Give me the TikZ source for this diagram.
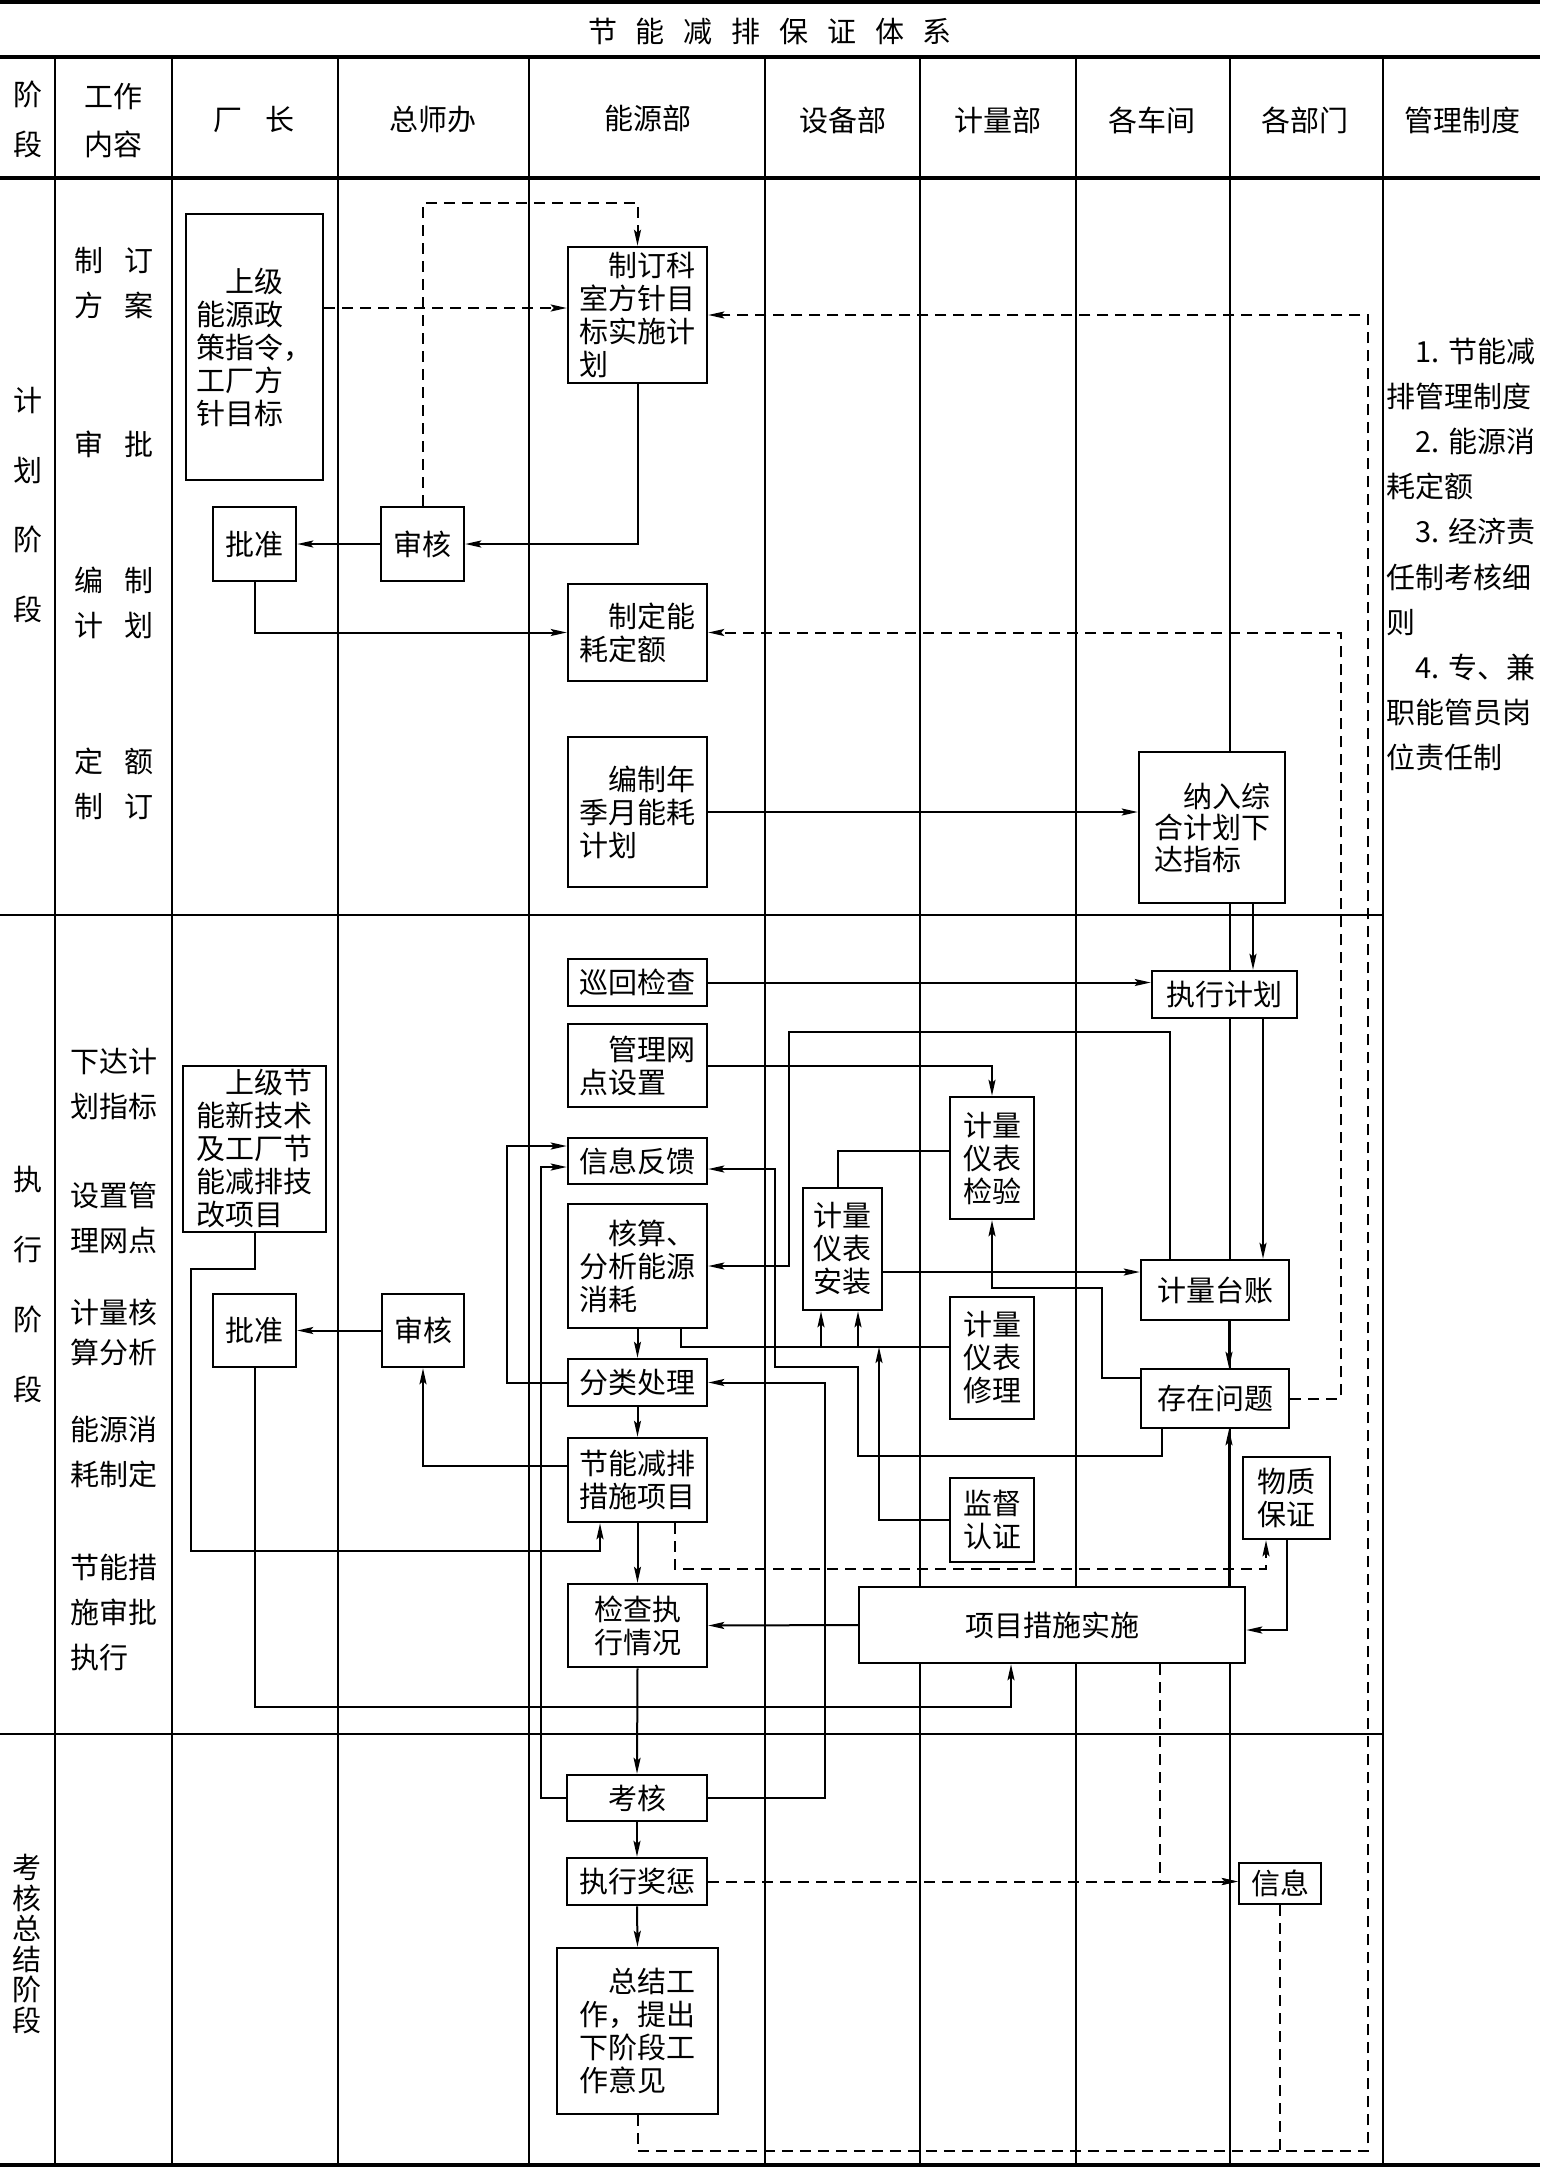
\documentclass[tikz,border=0pt]{standalone}
\usepackage{fontspec}
\newfontfamily\cjk{Noto Sans CJK SC}
\usetikzlibrary{arrows.meta}
\begin{document}
\begin{tikzpicture}[x=1pt,y=-1pt,
  every node/.style={font=\cjk\fontsize{29pt}{33pt}\selectfont, inner sep=0pt},
  bx/.style={draw, line width=2.5pt, fill=white, align=left},
  tl/.style={line width=2pt},
  thk/.style={line width=3.5pt},
  cn/.style={line width=2pt},
  dl/.style={line width=2pt, dash pattern=on 11pt off 7pt},
  arr/.style={-{Stealth[length=16pt,width=7pt,inset=3pt]}},
  lab/.style={align=left, font=\cjk\fontsize{29pt}{45pt}\selectfont},
  labc/.style={align=center, font=\cjk\fontsize{29pt}{45pt}\selectfont},
]
\useasboundingbox (0,0) rectangle (1540,2169);
% ---------- table ----------
\draw[thk] (0,2) -- (1540,2);
\draw[thk] (0,57) -- (1540,57);
\draw[thk] (0,178) -- (1540,178);
\draw[line width=4pt] (0,2165) -- (1540,2165);
\draw[tl] (0,915) -- (1383,915);
\draw[tl] (0,1734) -- (1383,1734);
\foreach \x in {55,172,338,529,765,920,1076,1230,1383} \draw[tl] (\x,57) -- (\x,2165);

% ---------- headers ----------
\node (title) at (770,32) {节\hspace{0.65em}能\hspace{0.65em}减\hspace{0.65em}排\hspace{0.65em}保\hspace{0.65em}证\hspace{0.65em}体\hspace{0.65em}系};
\node[align=center,font=\cjk\fontsize{29pt}{50pt}\selectfont] (h0) at (27.5,119) {阶\\段};
\node[align=center,font=\cjk\fontsize{29pt}{48pt}\selectfont] (h1) at (113,121) {工作\\内容};
\node (h2) at (254,120) {厂\hspace{0.8em}长};
\node (h3) at (433,120) {总师办};
\node (h4) at (648,118) {能源部};
\node (h5) at (843,120) {设备部};
\node (h6) at (998,120) {计量部};
\node (h7) at (1152,120) {各车间};
\node (h8) at (1305,120) {各部门};
\node (h9) at (1462,120) {管理制度};

% ---------- phase labels ----------
\node[align=center,font=\cjk\fontsize{29pt}{69.5pt}\selectfont] (p1) at (27.5,505) {计\\划\\阶\\段};
\node[align=center,font=\cjk\fontsize{29pt}{70pt}\selectfont] (p2) at (27.5,1285) {执\\行\\阶\\段};
\node[align=center,font=\cjk\fontsize{29pt}{30.5pt}\selectfont] (p3) at (27,1944) {考\\核\\总\\结\\阶\\段};

% ---------- work content ----------
\node[labc] (w1) at (114,283.5) {制\hspace{0.7em}订\\方\hspace{0.7em}案};
\node (w2) at (114,444) {审\hspace{0.7em}批};
\node[labc] (w3) at (114,603) {编\hspace{0.7em}制\\计\hspace{0.7em}划};
\node[labc] (w4) at (114,784) {定\hspace{0.7em}额\\制\hspace{0.7em}订};
\node[lab] (w5) at (114,1084) {下达计\\划指标};
\node[lab] (w6) at (114,1218) {设置管\\理网点};
\node[align=left,font=\cjk\fontsize{29pt}{40pt}\selectfont] (w7) at (114,1332) {计量核\\算分析};
\node[lab] (w8) at (114,1452) {能源消\\耗制定};
\node[lab] (w9) at (114,1612) {节能措\\施审批\\执行};

% ---------- management rules ----------
\node[align=left,font=\cjk\fontsize{29pt}{45.2pt}\selectfont] (mg) at (1461,554.5)
 {\hspace*{1em}1. 节能减\\排管理制度\\\hspace*{1em}2. 能源消\\耗定额\\\hspace*{1em}3. 经济责\\任制考核细\\则\\\hspace*{1em}4. 专、兼\\职能管员岗\\位责任制};

% ---------- plan phase boxes ----------
\node[bx,minimum width=137pt,minimum height=266pt] (polA) at (254.5,347) {\hspace*{1em}上级\\能源政\\策指令，\\工厂方\\针目标};
\node[bx,minimum width=139pt,minimum height=136pt] (B) at (637.5,315) {\hspace*{1em}制订科\\室方针目\\标实施计\\划};
\node[bx,minimum width=83pt,minimum height=74pt] (pz1) at (254.5,544) {批准};
\node[bx,minimum width=83pt,minimum height=74pt] (sh1) at (422.5,544) {审核};
\node[bx,minimum width=139pt,minimum height=97pt] (de) at (637.5,632.5) {\hspace*{1em}制定能\\耗定额};
\node[bx,minimum width=139pt,minimum height=150pt] (bz) at (637.5,812) {\hspace*{1em}编制年\\季月能耗\\计划};
\node[bx,minimum width=146pt,minimum height=151pt,font=\cjk\fontsize{29pt}{31.5pt}\selectfont] (nr) at (1212,827.5) {\hspace*{1em}纳入综\\合计划下\\达指标};

% ---------- execution phase boxes ----------
\node[bx,minimum width=139pt,minimum height=47pt] (xh) at (637.5,982.5) {巡回检查};
\node[bx,minimum width=139pt,minimum height=83pt] (gl) at (637.5,1065.5) {\hspace*{1em}管理网\\点设置};
\node[bx,minimum width=139pt,minimum height=46pt] (xf) at (637.5,1161) {信息反馈};
\node[bx,minimum width=139pt,minimum height=124pt] (hs) at (637.5,1266) {\hspace*{1em}核算、\\分析能源\\消耗};
\node[bx,minimum width=79pt,minimum height=122pt] (az) at (842.5,1249) {计量\\仪表\\安装};
\node[bx,minimum width=84pt,minimum height=122pt] (jy) at (992,1158) {计量\\仪表\\检验};
\node[bx,minimum width=145pt,minimum height=47pt] (zx) at (1224.5,994.5) {执行计划};
\node[bx,minimum width=148pt,minimum height=60pt] (tz) at (1215,1290) {计量台账};
\node[bx,minimum width=84pt,minimum height=122pt] (xl) at (992,1358) {计量\\仪表\\修理};
\node[bx,minimum width=148pt,minimum height=59pt] (wt) at (1215,1398.5) {存在问题};
\node[bx,minimum width=84pt,minimum height=84pt] (jd) at (992,1520) {监督\\认证};
\node[bx,minimum width=87pt,minimum height=82pt] (wz) at (1286.5,1498) {物质\\保证};
\node[bx,minimum width=386pt,minimum height=76pt] (xm) at (1052,1625) {项目措施实施};
\node[bx,minimum width=139pt,minimum height=47pt] (fl) at (637.5,1382.5) {分类处理};
\node[bx,minimum width=139pt,minimum height=84pt] (jn) at (637.5,1480) {节能减排\\措施项目};
\node[bx,minimum width=139pt,minimum height=83pt,align=center] (jc) at (637.5,1625.5) {检查执\\行情况};
\node[bx,minimum width=143pt,minimum height=166pt] (polB) at (254.5,1149) {\hspace*{1em}上级节\\能新技术\\及工厂节\\能减排技\\改项目};
\node[bx,minimum width=83pt,minimum height=73pt] (pz2) at (254.5,1330.5) {批准};
\node[bx,minimum width=82pt,minimum height=73pt] (sh2) at (423,1330.5) {审核};

% ---------- assessment phase boxes ----------
\node[bx,minimum width=140pt,minimum height=46pt] (kh) at (637,1798) {考核};
\node[bx,minimum width=140pt,minimum height=47pt] (jc2) at (637,1881.5) {执行奖惩};
\node[bx,minimum width=161pt,minimum height=166pt] (zj) at (637.5,2031) {\hspace*{1em}总结工\\作，提出\\下阶段工\\作意见};
\node[bx,minimum width=82pt,minimum height=41pt] (xx) at (1280,1883.5) {信息};

% ---------- plan phase connectors ----------
\draw[dl,arr] (polA.east |- 0,308) -- (B.west |- 0,308);
\draw[dl,arr] (sh1.north) |- (B.north |- 0,203) -- (B.north);
\draw[cn,arr] (B.south) |- (sh1.east);
\draw[cn,arr] (sh1.west) -- (pz1.east);
\draw[cn,arr] (pz1.south) |- (de.west);
\draw[dl,arr] (wt.east) -| (1341,632.5) -- (de.east);
\draw[dl,arr] (zj.south) |- (1368,2151) |- (B.east);
\draw[cn,arr] (bz.east) -- (nr.west |- bz.east);

% ---------- execution phase connectors ----------
\draw[cn,arr] (nr.south -| 1253,0) -- (zx.north -| 1253,0);
\draw[cn,arr] (xh.east) -- (zx.west |- xh.east);
\draw[cn,arr] (tz.north -| 1170,0) |- (789,1032) |- (hs.east);
\draw[cn,arr] (gl.east) -| (jy.north);
\draw[cn,arr] (fl.west) -| (507,1146) -- (xf.west |- 0,1146);
\draw[cn,arr] (kh.west) -| (541,1167) -- (xf.west |- 0,1167);
\draw[cn,arr] (wt.south -| 1162,0) |- (858,1456) |- (775,1367) |- (xf.east |- 0,1169);
\draw[cn] (hs.south -| 681,0) |- (xl.west |- 0,1347);
\coordinate (ja) at (821,1347);
\coordinate (jb) at (858,1347);
\coordinate (jm) at (879,1347);
\draw[cn,arr] (ja) -- (az.south -| ja);
\draw[cn,arr] (jb) -- (az.south -| jb);
\draw[cn,arr] (jd.west) -| (jm);
\draw[cn] (az.north -| 838,0) |- (jy.west |- 0,1151);
\draw[cn,arr] (az.east |- 0,1272) -- (tz.west |- 0,1272);
\draw[cn,arr] (wt.west |- 0,1378) -| (1102,1288) -| (jy.south);
\draw[cn,arr] (zx.south -| 1263,0) -- (tz.north -| 1263,0);
\draw[cn,arr] (tz.south -| 1229,0) -- (wt.north -| 1229,0);
\draw[cn,arr] (xm.north -| 1229,0) -- (wt.south -| 1229,0);
\draw[cn,arr] (xm.west) -- (jc.east);
\draw[cn,arr] (wz.south) |- (xm.east |- 0,1630);
\draw[dl,arr] (jn.south -| 675,0) |- (1266,1569) -- (wz.south -| 1266,0);
\draw[cn,arr] (kh.east) -| (825,1382.5) -- (fl.east);
\draw[cn,arr] (hs.south) -- (fl.north);
\draw[cn,arr] (fl.south) -- (jn.north);
\draw[cn,arr] (jn.south) -- (jc.north);
\draw[cn,arr] (jc.south) -- (kh.north);
\draw[cn,arr] (jn.west |- 0,1466) -| (sh2.south);
\draw[cn,arr] (polB.south) |- (191,1269) |- (600,1551) -- (jn.south -| 600,0);
\draw[cn,arr] (pz2.south) |- (1011,1707) -- (xm.south -| 1011,0);
\draw[cn,arr] (sh2.west) -- (pz2.east);

% ---------- assessment phase connectors ----------
\draw[cn,arr] (kh.south) -- (jc2.north);
\draw[cn,arr] (jc2.south) -- (zj.north);
\draw[dl,arr] (xm.south -| 1160,0) |- (xx.west |- jc2.east);
\draw[dl,arr] (jc2.east) -- (xx.west |- jc2.east);
\draw[dl] (xx.south) -- (xx.south |- 0,2151);
\end{tikzpicture}
\end{document}
